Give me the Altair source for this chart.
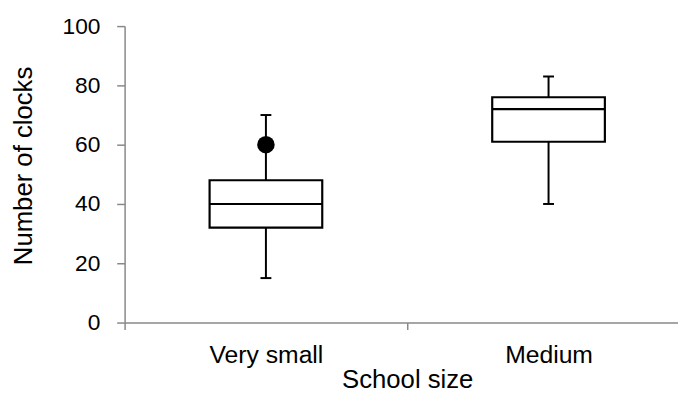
import altair as alt
import pandas as pd

categories = ["Very small", "Medium"]
whisker_low = [15, 40]
q1 = [32, 61]
median = [40, 72]
q3 = [48, 76]
whisker_high = [70, 83]
outlier_cat = ["Very small"]
outlier_val = [60]
y_ticks = [0, 20, 40, 60, 80, 100]

df = pd.DataFrame({
    "cat": categories, "low": whisker_low, "q1": q1, "med": median,
    "q3": q3, "high": whisker_high,
})
out = pd.DataFrame({"cat": outlier_cat, "val": outlier_val})

FONT = "Liberation Sans"
AX = "#888888"

xscale = alt.Scale(domain=categories, range=[0, 572], paddingInner=0, paddingOuter=0)
yscale = alt.Scale(domain=[0, 100], nice=False)

x_enc = alt.X("cat:N", scale=xscale, sort=categories, title="School size",
              axis=alt.Axis(tickBand="extent", labelAngle=0, labelFont=FONT, labelFontSize=25,
                            labelColor="#000000", labelBaseline="alphabetic", labelPadding=33,
                            tickSize=7, tickColor=AX, tickWidth=1.5, domainColor=AX, domainWidth=1.5,
                            titleFont=FONT, titleFontSize=26, titleFontWeight="normal",
                            titleColor="#000000", titleBaseline="alphabetic", titleY=66, grid=False))
y_axis = alt.Axis(values=y_ticks, labelFont=FONT, labelFontSize=23, labelColor="#000000",
                  labelPadding=17, tickSize=8, tickColor=AX, tickWidth=1.5, domainColor=AX,
                  domainWidth=1.5, titleFont=FONT, titleFontSize=26, titleFontWeight="normal",
                  titleColor="#000000", titleX=-89, titleY=141, grid=False)

base = alt.Chart(df)
whisk = base.mark_rule(color="black", strokeWidth=2).encode(
    x=x_enc, y=alt.Y("low:Q", scale=yscale, axis=y_axis, title="Number of clocks"), y2="high:Q")
box = base.mark_bar(width=114, fill="white", stroke="black", strokeWidth=2.2).encode(
    x=alt.X("cat:N", sort=categories), y="q1:Q", y2="q3:Q")
med = base.mark_tick(size=114, thickness=2.2, color="black", opacity=1).encode(
    x=alt.X("cat:N", sort=categories), y="med:Q")
cap_lo = base.mark_tick(size=11, thickness=2, color="black", opacity=1).encode(
    x=alt.X("cat:N", sort=categories), y="low:Q")
cap_hi = base.mark_tick(size=11, thickness=2, color="black", opacity=1).encode(
    x=alt.X("cat:N", sort=categories), y="high:Q")
pts = alt.Chart(out).mark_point(filled=True, size=314, color="black", opacity=1).encode(
    x=alt.X("cat:N", sort=categories), y="val:Q")

chart = alt.layer(whisk, box, med, cap_lo, cap_hi, pts).properties(
    width=560, height=300,
    autosize=alt.AutoSizeParams(type="none"),
    padding={"left": 118, "top": 16, "right": 0, "bottom": 71},
).configure_view(stroke=None)

chart.save("out.html", embed_options={"renderer": "svg", "actions": False})
